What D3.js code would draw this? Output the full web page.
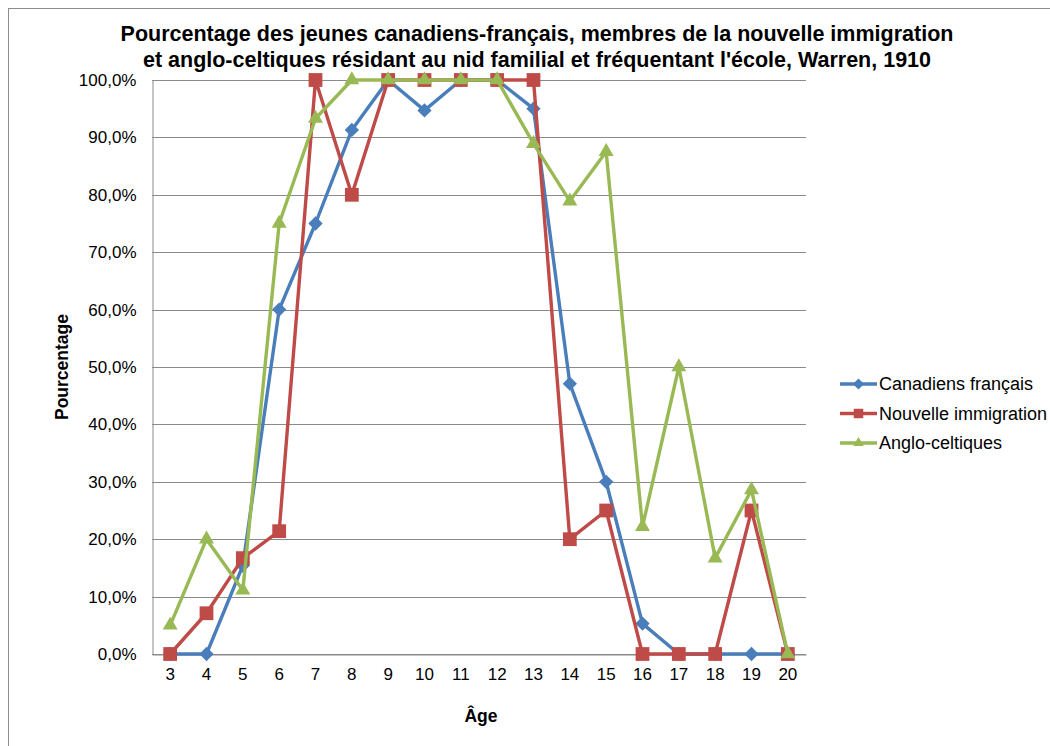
<!DOCTYPE html>
<html>
<head>
<meta charset="utf-8">
<script src="https://cdn.jsdelivr.net/npm/d3@7"></script>
<style>
  html, body { margin: 0; padding: 0; background: #fff; }
  svg { display: block; }
</style>
</head>
<body>
<svg id="chart" width="1050" height="746"></svg>
<script>
// Ages (x categories)
const ages = [3, 4, 5, 6, 7, 8, 9, 10, 11, 12, 13, 14, 15, 16, 17, 18, 19, 20];

// Percentages per group
const canadiensFrancais = [0, 0, 15.4, 60, 75, 91.3, 100, 94.7, 100, 100, 95, 47.1, 30, 5.3, 0, 0, 0, 0];
const nouvelleImmigration = [0, 7.1, 16.7, 21.4, 100, 80, 100, 100, 100, 100, 100, 20, 25, 0, 0, 0, 25, 0];
const angloCeltiques = [5, 20, 11.1, 75, 93.3, 100, 100, 100, 100, 100, 88.9, 78.9, 87.5, 22.2, 50, 16.7, 28.6, 0];

const seriesNames = ["Canadiens français", "Nouvelle immigration", "Anglo-celtiques"];
const yTicks = [0, 10, 20, 30, 40, 50, 60, 70, 80, 90, 100];

const series = [
  { name: seriesNames[0], values: canadiensFrancais, color: "#4A7EBB", shape: "diamond" },
  { name: seriesNames[1], values: nouvelleImmigration, color: "#BE4B48", shape: "square" },
  { name: seriesNames[2], values: angloCeltiques, color: "#98B954", shape: "triangle" }
];

const svg = d3.select("#chart");
const font = "'Liberation Sans', Arial, sans-serif";

// Outer chart frame
svg.append("rect")
  .attr("x", 8.5).attr("y", 8.5)
  .attr("width", 1100).attr("height", 800)
  .attr("fill", "#fff").attr("stroke", "#8c8c8c").attr("stroke-width", 1);

const plot = { left: 152, top: 80, right: 806, bottom: 654 };

const x = d3.scaleBand()
  .domain(ages)
  .range([plot.left, plot.right])
  .paddingInner(0).paddingOuter(0);
const xc = d => x(d) + x.bandwidth() / 2;

const y = d3.scaleLinear().domain([0, 100]).range([plot.bottom, plot.top]);

// Horizontal gridlines
svg.append("g")
  .selectAll("line")
  .data(yTicks)
  .join("line")
  .attr("x1", plot.left).attr("x2", plot.right)
  .attr("y1", d => Math.round(y(d)) + 0.5).attr("y2", d => Math.round(y(d)) + 0.5)
  .attr("stroke", "#8a8a8a").attr("stroke-width", 1);

// Y axis
const yAxis = d3.axisLeft(y)
  .tickValues(yTicks)
  .tickSize(0)
  .tickPadding(16)
  .tickFormat(d => d3.format(".1f")(d).replace(".", ",") + "%");
const gy = svg.append("g")
  .attr("transform", `translate(${plot.left + 0.5},0)`)
  .call(yAxis);
gy.select(".domain").attr("stroke", "#8a8a8a");
gy.selectAll("text").attr("font-family", font).attr("font-size", 17).attr("fill", "#000");

// X axis
const xAxis = d3.axisBottom(x).tickSize(0).tickPadding(13);
const gx = svg.append("g")
  .attr("transform", `translate(0,${Math.round(y(0)) + 0.5})`)
  .call(xAxis);
gx.select(".domain").attr("stroke", "#8a8a8a");
gx.selectAll("text").attr("font-family", font).attr("font-size", 17).attr("fill", "#000");

// Marker paths
const symbolFor = {
  diamond: d3.symbol().type(d3.symbolDiamond2).size(130),
  square: d3.symbol().type(d3.symbolSquare).size(190),
  triangle: d3.symbol().type(d3.symbolTriangle2).size(160)
};

const line = d3.line()
  .x((d, i) => xc(ages[i]))
  .y(d => y(d));

series.forEach(s => {
  const g = svg.append("g");
  g.append("path")
    .attr("d", line(s.values))
    .attr("fill", "none")
    .attr("stroke", s.color)
    .attr("stroke-width", 3.4)
    .attr("stroke-linejoin", "round");
  g.selectAll("path.mk")
    .data(s.values)
    .join("path")
    .attr("class", "mk")
    .attr("transform", (d, i) => `translate(${xc(ages[i])},${y(d)})`)
    .attr("d", symbolFor[s.shape]())
    .attr("fill", s.color);
});

// Title
const title = svg.append("text")
  .attr("text-anchor", "middle")
  .attr("font-family", font)
  .attr("font-weight", "bold")
  .attr("font-size", 21.5)
  .attr("fill", "#000");
title.append("tspan").attr("x", 537).attr("y", 41)
  .text("Pourcentage des jeunes canadiens-français, membres de la nouvelle immigration");
title.append("tspan").attr("x", 537).attr("y", 67)
  .text("et anglo-celtiques résidant au nid familial et fréquentant l'école, Warren, 1910");

// Axis titles
svg.append("text")
  .attr("x", 481).attr("y", 722)
  .attr("text-anchor", "middle")
  .attr("font-family", font).attr("font-weight", "bold").attr("font-size", 17.5)
  .text("Âge");

svg.append("text")
  .attr("transform", "translate(68,367) rotate(-90)")
  .attr("text-anchor", "middle")
  .attr("font-family", font).attr("font-weight", "bold").attr("font-size", 17.5)
  .text("Pourcentage");

// Legend
const legend = svg.append("g").attr("transform", "translate(840,384)");
series.forEach((s, i) => {
  const g = legend.append("g").attr("transform", `translate(0,${i * 29.5})`);
  g.append("line")
    .attr("x1", 0).attr("x2", 37).attr("y1", 0).attr("y2", 0)
    .attr("stroke", s.color).attr("stroke-width", 3.4);
  g.append("path")
    .attr("transform", "translate(18.5,0)")
    .attr("d", d3.symbol().type(
      s.shape === "diamond" ? d3.symbolDiamond2 : s.shape === "square" ? d3.symbolSquare : d3.symbolTriangle2
    ).size(s.shape === "square" ? 90 : 80)())
    .attr("fill", s.color);
  g.append("text")
    .attr("x", 39).attr("y", 6)
    .attr("font-family", font).attr("font-size", 18)
    .attr("fill", "#000")
    .text(s.name);
});
</script>
</body>
</html>
